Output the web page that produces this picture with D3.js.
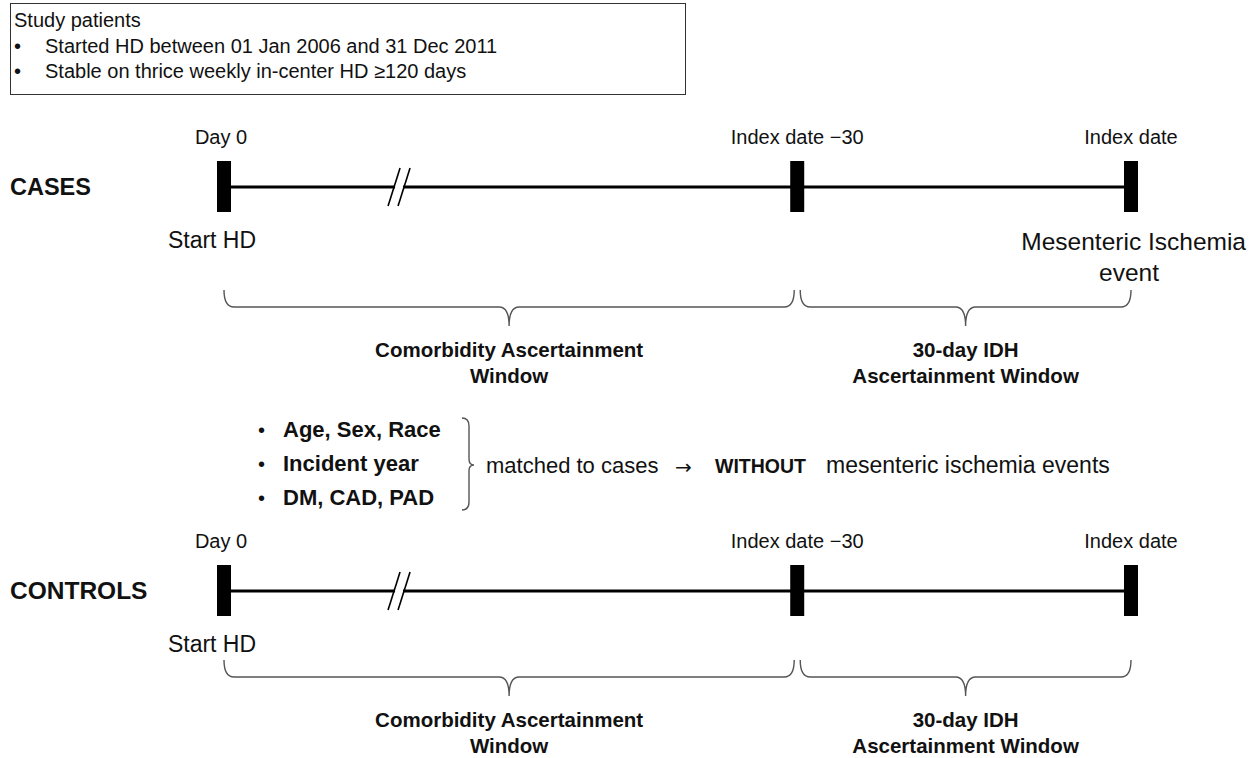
<!DOCTYPE html>
<html><head><meta charset="utf-8">
<script src="https://cdn.jsdelivr.net/npm/d3@7"></script>
<style>
html,body{margin:0;padding:0;background:#fff;}
svg{display:block;font-family:"Liberation Sans",Arial,sans-serif;fill:#111;}
</style></head><body>
<svg id="c" width="1252" height="758"></svg>
<script>
// ---- data ----
const studyTitle = "Study patients";
const studyCriteria = ["Started HD between 01 Jan 2006 and 31 Dec 2011", "Stable on thrice weekly in-center HD \u2265120 days"];
const groups = ["CASES", "CONTROLS"];
const milestones = ["Day 0", "Index date \u221230", "Index date"];
const milestonePos = [0, 63.2, 100];       // relative timeline position (with axis break)
const breakPos = 19.3;
const startLabel = "Start HD";
const eventLabel = ["Mesenteric Ischemia", "event"];
const windows = [["Comorbidity Ascertainment", "Window"], ["30-day IDH", "Ascertainment Window"]];
const matchVars = ["Age, Sex, Race", "Incident year", "DM, CAD, PAD"];
const matchText = "matched to cases";
const withoutBold = "WITHOUT";
const withoutRest = "mesenteric ischemia events";

// ---- layout ----
const svg = d3.select("#c");
const x = d3.scaleLinear().domain([0, 100]).range([224, 1131]);
const rowY = d3.scaleOrdinal().domain(groups).range([187, 591]);
const fsBox = 20, fsLab = 20, fsBig = 23, fsBold = 20.5, fsMatch = 22;

// study box
svg.append("rect").attr("x", 10.5).attr("y", 3.5).attr("width", 675).attr("height", 91)
  .attr("fill", "#fff").attr("stroke", "#333").attr("stroke-width", 1);
svg.append("text").attr("x", 14).attr("y", 27).attr("font-size", fsBox).text(studyTitle);
studyCriteria.forEach((t, i) => {
  const y = 53 + i * 25;
  svg.append("text").attr("x", 14).attr("y", y).attr("font-size", fsBox).text("\u2022");
  svg.append("text").attr("x", 45).attr("y", y).attr("font-size", fsBox).text(t);
});

function brace(x1, xm, x2, y0, y1, y2) {
  const r = 10;
  return `M${x1},${y0} Q${x1},${y1} ${x1 + r},${y1} L${xm - r},${y1} Q${xm},${y1} ${xm},${y2}` +
         ` M${xm},${y2} Q${xm},${y1} ${xm + r},${y1} L${x2 - r},${y1} Q${x2},${y1} ${x2},${y0}`;
}

groups.forEach((g, gi) => {
  const cy = rowY(g);
  const G = svg.append("g");
  G.append("text").attr("x", 10).attr("y", cy + 8).attr("font-size", gi === 0 ? 23.5 : 24.5)
    .attr("font-weight", "bold").text(g);
  // main line with break
  const xb = x(breakPos);
  G.append("line").attr("x1", x(0)).attr("x2", xb - 4).attr("y1", cy).attr("y2", cy)
    .attr("stroke", "#000").attr("stroke-width", 3);
  G.append("line").attr("x1", xb + 4).attr("x2", x(100)).attr("y1", cy).attr("y2", cy)
    .attr("stroke", "#000").attr("stroke-width", 3);
  [-5, 5].forEach(dx => {
    G.append("line").attr("x1", xb + dx - 6).attr("y1", cy + 19).attr("x2", xb + dx + 6).attr("y2", cy - 19)
      .attr("stroke", "#000").attr("stroke-width", 1.6);
  });
  // bars + labels
  milestones.forEach((m, i) => {
    const mx = x(milestonePos[i]);
    G.append("rect").attr("x", mx - 7).attr("y", cy - 26).attr("width", 14).attr("height", 51).attr("fill", "#000");
    G.append("text").attr("x", mx - (i === 0 ? 3 : 0)).attr("y", cy - 43).attr("font-size", fsLab)
      .attr("text-anchor", "middle").text(m);
  });
  G.append("text").attr("x", x(0) - 12).attr("y", cy + 61).attr("font-size", fsBig)
    .attr("text-anchor", "middle").text(startLabel);
  if (gi === 0) {
    G.append("text").attr("x", 1246).attr("y", cy + 63).attr("font-size", 24.5).attr("text-anchor", "end").text(eventLabel[0]);
    G.append("text").attr("x", x(100) - 2).attr("y", cy + 94).attr("font-size", 24.5).attr("text-anchor", "middle").text(eventLabel[1]);
  }
  // braces
  const by0 = cy + (gi === 0 ? 103 : 69), by1 = by0 + 17, by2 = by1 + 19;
  const spans = [[0, milestonePos[1]], [milestonePos[1], 100]];
  spans.forEach((s, si) => {
    const x1 = x(s[0]) + (si === 1 ? 3 : 0), x2 = x(s[1]) - (si === 0 ? 3 : 0);
    const xm = (x1 + x2) / 2;
    G.append("path").attr("d", brace(x1, xm, x2, by0, by1, by2)).attr("fill", "none")
      .attr("stroke", "#555").attr("stroke-width", 1.4);
    windows[si].forEach((t, li) => {
      G.append("text").attr("x", xm).attr("y", by1 + 50 + li * 25.5).attr("font-size", fsBold)
        .attr("font-weight", "bold").attr("text-anchor", "middle").text(t);
    });
  });
});

// matching block
const mY = d3.scalePoint().domain(matchVars).range([437, 505]);
matchVars.forEach(v => {
  svg.append("text").attr("x", 258).attr("y", mY(v)).attr("font-size", 20).text("\u2022");
  svg.append("text").attr("x", 283).attr("y", mY(v)).attr("font-size", fsMatch).attr("font-weight", "bold").text(v);
});
// right curly brace
const cx0 = 462, cyTop = 418, cyBot = 510, cyMid = 465;
svg.append("path").attr("d",
  `M${cx0},${cyTop} Q${cx0 + 7},${cyTop} ${cx0 + 7},${cyTop + 8} L${cx0 + 7},${cyMid - 6} Q${cx0 + 7},${cyMid} ${cx0 + 12},${cyMid}` +
  ` Q${cx0 + 7},${cyMid} ${cx0 + 7},${cyMid + 6} L${cx0 + 7},${cyBot - 8} Q${cx0 + 7},${cyBot} ${cx0},${cyBot}`)
  .attr("fill", "none").attr("stroke", "#555").attr("stroke-width", 1.4);
svg.append("text").attr("x", 486).attr("y", 473).attr("font-size", fsMatch).text(matchText);
svg.append("text").attr("x", 675).attr("y", 474).attr("font-size", 20).attr("font-family", "DejaVu Sans").text("\u2192");
svg.append("text").attr("x", 715).attr("y", 473).attr("font-size", 19.5).attr("font-weight", "bold").text(withoutBold);
svg.append("text").attr("x", 826).attr("y", 473).attr("font-size", 23).text(withoutRest);
</script>
</body></html>
